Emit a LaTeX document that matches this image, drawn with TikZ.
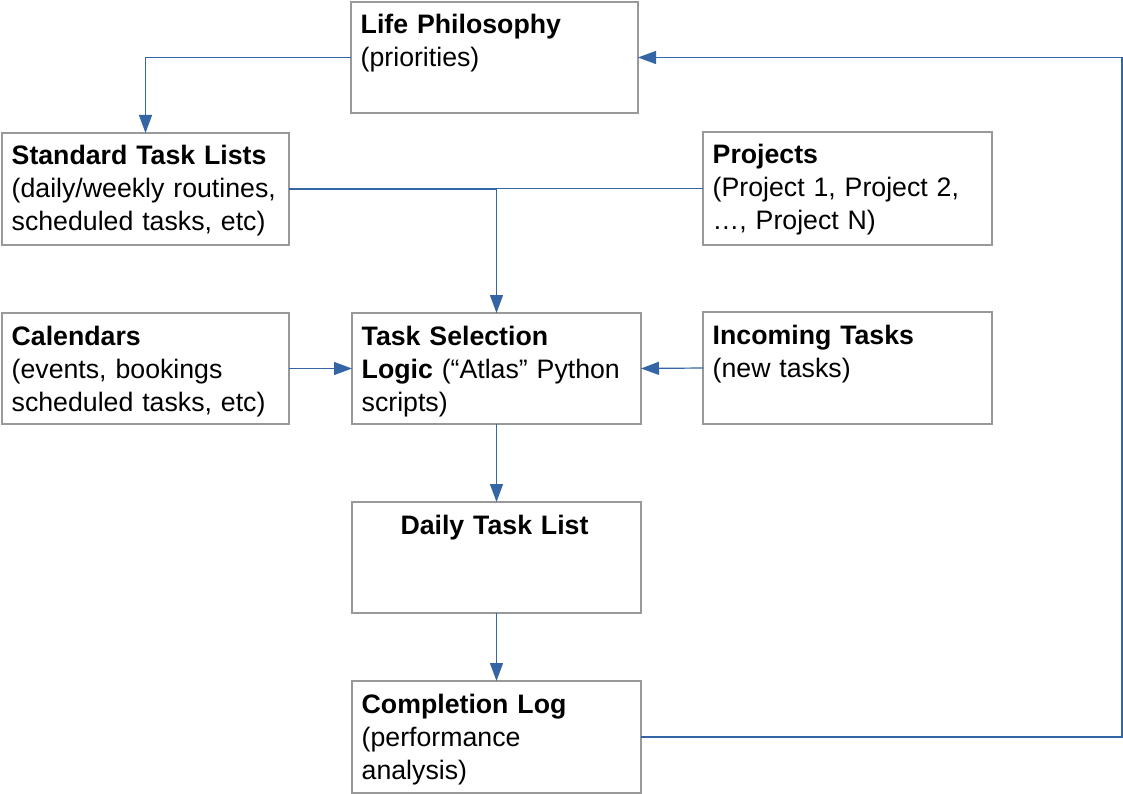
\documentclass[tikz,border=0pt]{standalone}
\usepackage{fontspec}
\setmainfont{Liberation Sans}
\usetikzlibrary{arrows.meta}
\definecolor{boxgray}{HTML}{999999}
\definecolor{linkblue}{HTML}{3465A4}
\begin{document}
\begin{tikzpicture}[x=1pt,y=-1pt,
  box/.style={draw=boxgray,line width=1.3pt,anchor=north west,inner sep=0pt,outer sep=0pt},
  txt/.style={anchor=base west,inner sep=0pt,text width=320pt,align=left,font=\fontsize{26.7pt}{33pt}\selectfont},
  conn/.style={draw=linkblue,line width=1.2pt,-{Triangle[length=18pt,width=13pt]}},
  wire/.style={draw=linkblue,line width=1.2pt}]
\path[use as bounding box] (0,0) rectangle (1123,794);
% boxes
\node[box,minimum width=287pt,minimum height=111pt] (lp) at (351,2) {};
\node[box,minimum width=287pt,minimum height=112pt] (stl) at (2,133) {};
\node[box,minimum width=289pt,minimum height=113pt] (proj) at (703,132) {};
\node[box,minimum width=287pt,minimum height=111pt] (cal) at (2,313) {};
\node[box,minimum width=289pt,minimum height=111pt] (tsl) at (352,313) {};
\node[box,minimum width=289pt,minimum height=112pt] (inc) at (703,312) {};
\node[box,minimum width=289pt,minimum height=111pt] (dtl) at (352,502) {};
\node[box,minimum width=289pt,minimum height=112pt] (cl) at (352,681) {};
% texts
\node[txt] (lpt) at ([xshift=9.5pt,yshift=-32pt]lp.north west) {\textbf{Life Philosophy}\\(priorities)};
\node[txt] (stlt) at ([xshift=9.5pt,yshift=-32pt]stl.north west) {\textbf{Standard Task Lists}\\(daily/weekly routines,\\scheduled tasks, etc)};
\node[txt] (projt) at ([xshift=9.5pt,yshift=-32pt]proj.north west) {\textbf{Projects}\\(Project 1, Project 2,\\…, Project N)};
\node[txt] (calt) at ([xshift=9.5pt,yshift=-32pt]cal.north west) {\textbf{Calendars}\\(events, bookings\\scheduled tasks, etc)};
\node[txt] (tslt) at ([xshift=9.5pt,yshift=-32pt]tsl.north west) {\textbf{Task Selection}\\\textbf{Logic} (“Atlas” Python\\scripts)};
\node[txt] (inct) at ([xshift=9.5pt,yshift=-32pt]inc.north west) {\textbf{Incoming Tasks}\\(new tasks)};
\node[txt,anchor=base,text width=280pt,align=center] (dtlt) at ([xshift=-2pt,yshift=-32pt]dtl.north) {\textbf{Daily Task List}};
\node[txt] (clt) at ([xshift=9.5pt,yshift=-32pt]cl.north west) {\textbf{Completion Log}\\(performance\\analysis)};
% connectors
\coordinate (ret) at (1122,0);
\draw[conn] (lp.west) -| (stl.north);
\draw[wire] (proj.west) -| (tsl.north);
\draw[conn] (stl.east) -| (tsl.north);
\draw[conn] (cal.east) -- (tsl.west);
\draw[conn] (inc.west) -- (tsl.east);
\draw[conn] (tsl.south) -- (dtl.north);
\draw[conn] (dtl.south) -- (cl.north);
\draw[conn] (cl.east) -- (cl.east -| ret) |- (lp.east);
\end{tikzpicture}
\end{document}
